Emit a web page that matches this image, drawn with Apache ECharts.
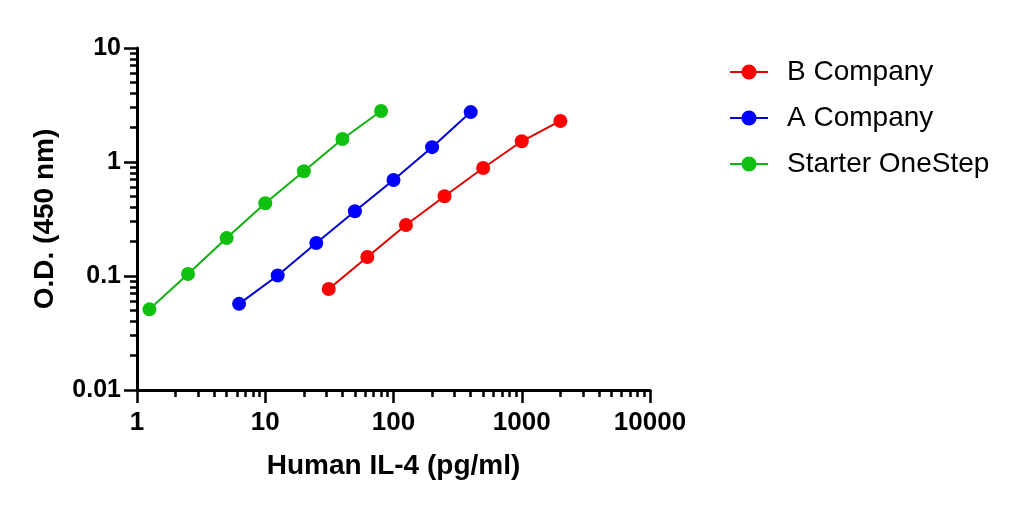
<!DOCTYPE html>
<html>
<head>
<meta charset="utf-8">
<script src="https://cdn.jsdelivr.net/npm/echarts@6/dist/echarts.min.js"></script>
<style>html,body{margin:0;padding:0;background:#fff;}#c{width:1015px;height:507px;}</style>
</head>
<body>
<div id="c"></div>
<script>
const seriesNames = ['B Company', 'A Company', 'Starter OneStep'];
const concB = [31.25, 62.5, 125, 250, 500, 1000, 2000];
const odB = [0.077, 0.147, 0.28, 0.5, 0.885, 1.52, 2.29];
const concA = [6.25, 12.5, 25, 50, 100, 200, 400];
const odA = [0.057, 0.101, 0.195, 0.37, 0.695, 1.35, 2.74];
const concStarter = [1.25, 2.5, 5, 10, 20, 40, 80];
const odStarter = [0.051, 0.104, 0.215, 0.435, 0.83, 1.59, 2.8];
const xMajorTicks = [1, 10, 100, 1000, 10000];
const yMajorTicks = [0.01, 0.1, 1, 10];
const colors = ['#ff0000', '#0000ff', '#10c010'];
const lineColors = ['#e00000', '#0000d0', '#10b010'];

function minorTicks(majors) {
  const out = [];
  for (let i = 0; i < majors.length - 1; i++) {
    for (let k = 2; k <= 9; k++) out.push(+(majors[i] * k).toPrecision(6));
  }
  return out;
}
function pairs(xs, ys) { return xs.map((x, i) => [x, ys[i]]); }
function plain(v) { return String(+Number(v).toPrecision(3)); }

const font = 'Liberation Sans, Arial, sans-serif';
const chart = echarts.init(document.getElementById('c'));
const seriesData = [pairs(concB, odB), pairs(concA, odA), pairs(concStarter, odStarter)];

chart.setOption({
  animation: false,
  grid: { left: 137, right: 365, top: 48, bottom: 117 },
  legend: {
    orient: 'vertical', left: 724, top: 52,
    itemWidth: 38, itemHeight: 19, itemGap: 16,
    data: seriesNames,
    textStyle: { fontFamily: font, fontSize: 28, color: '#000', lineHeight: 30, padding: [0, 0, 0, 14] }
  },
  xAxis: [{
    type: 'log', logBase: 10, min: 1, max: 10000,
    name: 'Human IL-4 (pg/ml)', nameLocation: 'middle', nameGap: 62,
    nameTextStyle: { fontFamily: font, fontSize: 28, fontWeight: 'bold', color: '#000' },
    axisLine: { show: true, lineStyle: { color: '#000', width: 3 } },
    axisTick: { show: true, length: 13, customValues: xMajorTicks, lineStyle: { color: '#000', width: 2.5 } },
    axisLabel: { customValues: xMajorTicks, margin: 20, fontFamily: font, fontSize: 26, fontWeight: 'bold', color: '#000',
      formatter: plain },
    splitLine: { show: false }
  }, {
    type: 'log', logBase: 10, min: 1, max: 10000, position: 'bottom',
    axisLine: { show: false },
    axisTick: { show: true, length: 7, customValues: minorTicks(xMajorTicks), lineStyle: { color: '#000', width: 2.5 } },
    axisLabel: { show: false },
    splitLine: { show: false }
  }],
  yAxis: [{
    type: 'log', logBase: 10, min: 0.01, max: 10,
    name: 'O.D. (450 nm)', nameLocation: 'middle', nameGap: 78,
    nameTextStyle: { fontFamily: font, fontSize: 28, fontWeight: 'bold', color: '#000' },
    axisLine: { show: true, lineStyle: { color: '#000', width: 3 } },
    axisTick: { show: true, length: 13, customValues: yMajorTicks, lineStyle: { color: '#000', width: 2.5 } },
    axisLabel: { customValues: yMajorTicks, margin: 16, fontFamily: font, fontSize: 25, fontWeight: 'bold', color: '#000',
      formatter: plain },
    splitLine: { show: false }
  }, {
    type: 'log', logBase: 10, min: 0.01, max: 10, position: 'left',
    axisLine: { show: false },
    axisTick: { show: true, length: 7, customValues: minorTicks(yMajorTicks), lineStyle: { color: '#000', width: 2.5 } },
    axisLabel: { show: false },
    splitLine: { show: false }
  }],
  series: seriesNames.map((name, i) => ({
    name: name, type: 'line', xAxisIndex: 0, yAxisIndex: 0,
    data: seriesData[i],
    symbol: 'circle', symbolSize: 14,
    itemStyle: { color: colors[i] },
    lineStyle: { color: lineColors[i], width: 2 }
  }))
});
</script>
</body>
</html>
